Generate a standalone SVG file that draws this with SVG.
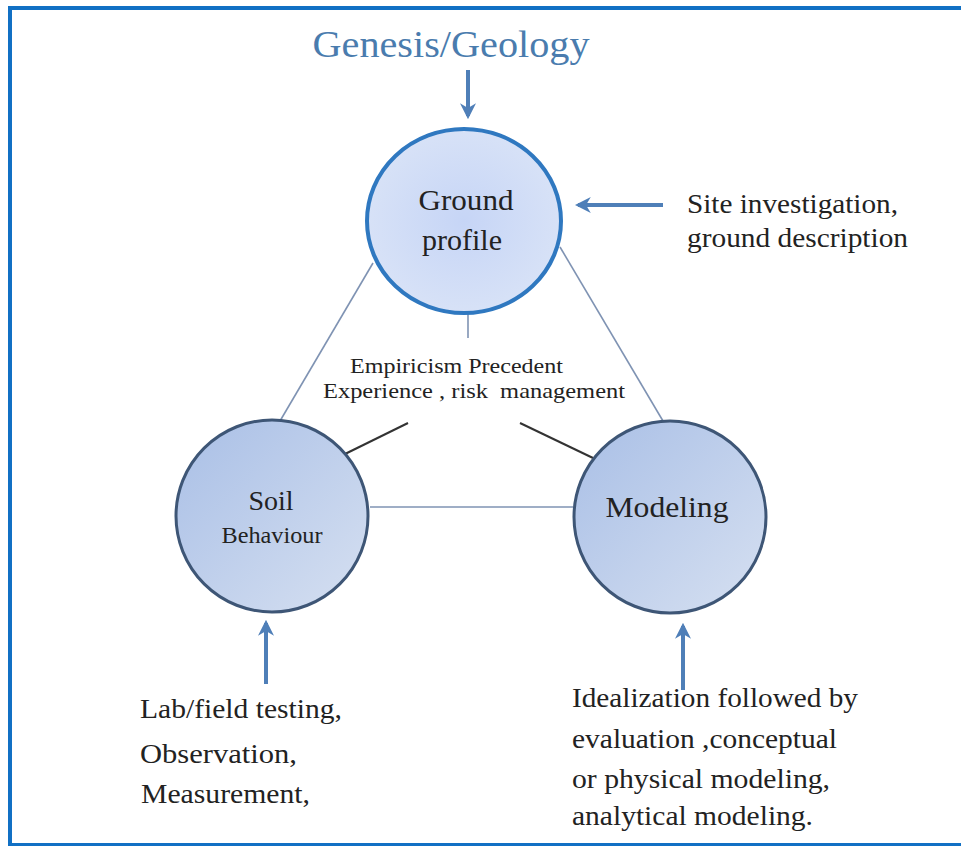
<svg xmlns="http://www.w3.org/2000/svg" width="961" height="846" viewBox="0 0 961 846">
<defs>
<radialGradient id="gfill" cx="50%" cy="50%" r="55%">
<stop offset="0" stop-color="#c6d5f6"/>
<stop offset="1" stop-color="#d9e3f7"/>
</radialGradient>
<linearGradient id="nfill" x1="0" y1="0" x2="1" y2="1">
<stop offset="0" stop-color="#a9bfe6"/>
<stop offset="1" stop-color="#d6e0f1"/>
</linearGradient>
<marker id="ah" viewBox="0 0 10 10" refX="8" refY="5" markerWidth="4" markerHeight="4" orient="auto" markerUnits="strokeWidth">
<path d="M0,0 L10,5 L0,10 L3,5 Z" fill="#4f7fb8"/>
</marker>
<style>
.t{font-family:"Liberation Serif","Times New Roman",serif;fill:#222}
.big{font-size:30px}
.lbl{font-size:27px}
.mid{font-size:21px}
.arr{stroke:#4f7fb8;stroke-width:4;fill:none;marker-end:url(#ah)}
.tri{stroke:#7f93b3;stroke-width:1.6;fill:none}
.blk{stroke:#333;stroke-width:2;fill:none}
</style>
</defs>
<rect width="961" height="846" fill="#fff"/>
<path d="M961 8 H10 V845 H961" fill="none" stroke="#1170c4" stroke-width="4"/>

<g id="connectors">
<line class="tri" x1="373" y1="263" x2="280" y2="421"/>
<line class="tri" x1="560" y1="247" x2="663" y2="421"/>
<line class="tri" x1="370" y1="507" x2="573" y2="507"/>
<line class="tri" x1="468" y1="312" x2="468" y2="338" stroke="#666" stroke-width="2.5"/>
<line class="blk" x1="408" y1="423" x2="345" y2="454"/>
<line class="blk" x1="520" y1="423" x2="593" y2="458"/>
<line class="arr" x1="468" y1="70" x2="468" y2="116"/>
<line class="arr" x1="663" y1="205" x2="578" y2="205"/>
<line class="arr" x1="266" y1="684" x2="266" y2="623"/>
<line class="arr" x1="683" y1="690" x2="683" y2="626"/>
</g>

<g id="genesis">
<text x="451" y="57" text-anchor="middle" font-family="'Liberation Serif','Times New Roman',serif" font-size="37" fill="#4a7cae" textLength="277" lengthAdjust="spacingAndGlyphs">Genesis/Geology</text>
</g>

<g id="ground-profile">
<ellipse cx="464" cy="221" rx="97" ry="92" fill="url(#gfill)" stroke="#2f78c0" stroke-width="4"/>
<text class="t big" x="466" y="210" text-anchor="middle" textLength="95" lengthAdjust="spacingAndGlyphs">Ground</text>
<text class="t big" x="462" y="250" text-anchor="middle">profile</text>
</g>

<g id="soil-behaviour">
<circle cx="272" cy="516" r="96" fill="url(#nfill)" stroke="#3e5676" stroke-width="3"/>
<text class="t" font-size="28" x="271" y="510" text-anchor="middle">Soil</text>
<text class="t" font-size="23" x="272" y="543" text-anchor="middle" textLength="101" lengthAdjust="spacingAndGlyphs">Behaviour</text>
</g>

<g id="modeling">
<circle cx="670" cy="517" r="96" fill="url(#nfill)" stroke="#3e5676" stroke-width="3"/>
<text class="t big" x="667" y="517" text-anchor="middle" textLength="123" lengthAdjust="spacingAndGlyphs">Modeling</text>
</g>

<g id="empiricism">
<text class="t mid" x="350" y="373" textLength="213" lengthAdjust="spacingAndGlyphs">Empiricism Precedent</text>
<text class="t mid" x="323" y="398" textLength="302" lengthAdjust="spacingAndGlyphs" xml:space="preserve">Experience , risk  management</text>
</g>

<g id="site-investigation">
<text class="t lbl" x="687" y="213" textLength="211" lengthAdjust="spacingAndGlyphs">Site investigation,</text>
<text class="t lbl" x="687" y="247" textLength="221" lengthAdjust="spacingAndGlyphs">ground description</text>
</g>

<g id="lab-testing">
<text class="t lbl" x="140" y="718" textLength="202" lengthAdjust="spacingAndGlyphs">Lab/field testing,</text>
<text class="t lbl" x="140" y="763" textLength="157" lengthAdjust="spacingAndGlyphs">Observation,</text>
<text class="t lbl" x="141" y="803" textLength="169" lengthAdjust="spacingAndGlyphs">Measurement,</text>
</g>

<g id="idealization">
<text class="t lbl" x="572" y="707" textLength="286" lengthAdjust="spacingAndGlyphs">Idealization followed by</text>
<text class="t lbl" x="572" y="748" textLength="265" lengthAdjust="spacingAndGlyphs">evaluation ,conceptual</text>
<text class="t lbl" x="572" y="788" textLength="258" lengthAdjust="spacingAndGlyphs">or physical modeling,</text>
<text class="t lbl" x="572" y="825" textLength="241" lengthAdjust="spacingAndGlyphs">analytical modeling.</text>
</g>
</svg>
